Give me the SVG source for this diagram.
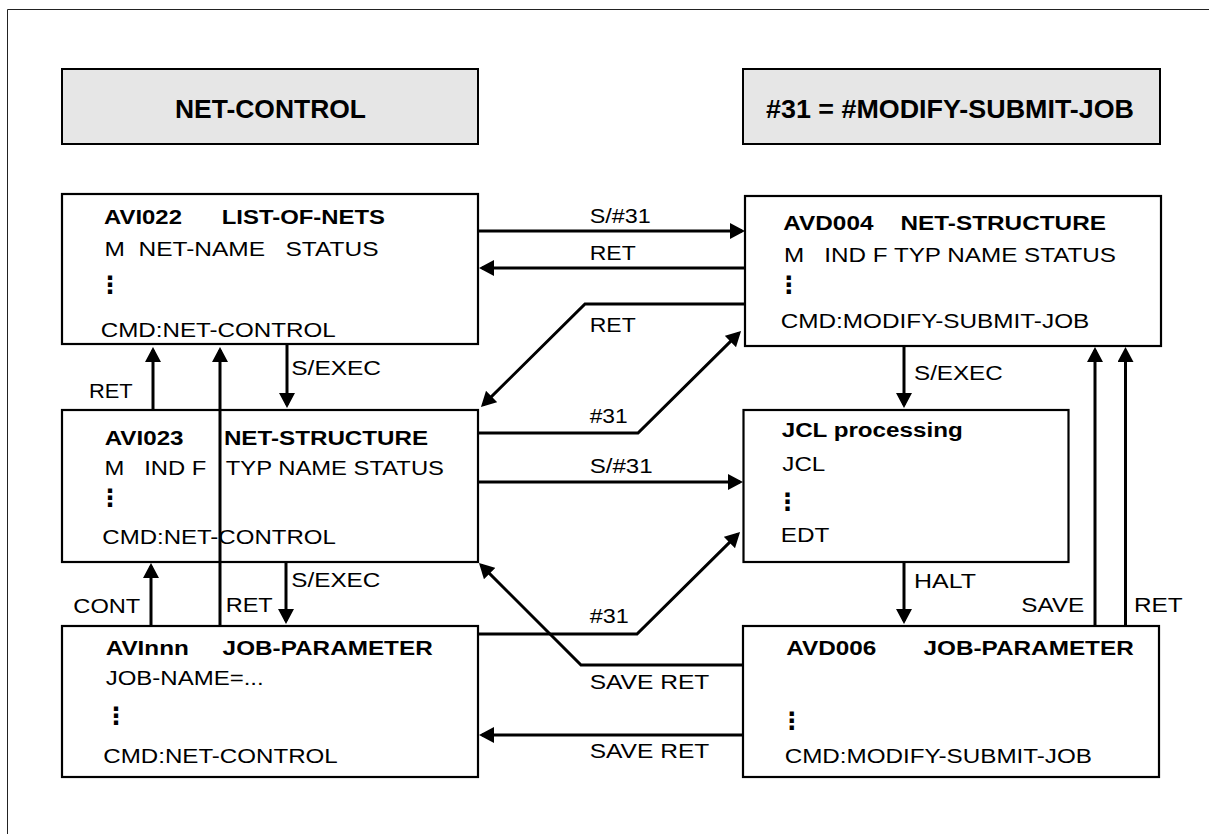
<svg xmlns="http://www.w3.org/2000/svg" width="1209" height="834" viewBox="0 0 1209 834">
<style>
.frame{fill:none;stroke:#222;stroke-width:1}
.hdr{fill:#e6e6e6;stroke:#000;stroke-width:2}
.box{fill:#fff;stroke:#000;stroke-width:2.2}
.t{font-family:"Liberation Sans",Arial,sans-serif;font-size:20.7px;fill:#000}
.b{font-weight:bold}
.h{font-family:"Liberation Sans",Arial,sans-serif;font-size:25px;font-weight:bold;fill:#000}
.dots{font-family:"DejaVu Sans",sans-serif;font-size:24px;font-weight:bold;fill:#000;text-anchor:middle}
.c{fill:none;stroke:#000;stroke-width:3;marker-end:url(#ah)}
</style>
<defs>
<marker id="ah" markerUnits="userSpaceOnUse" viewBox="0 0 15 16" markerWidth="15" markerHeight="16" refX="12" refY="8" orient="auto">
<path d="M0,0 L15,8 L0,16 Z" fill="#000"/>
</marker>
</defs>
<rect width="1209" height="834" fill="#fff"/>
<path class="frame" d="M7.5,834 V9.5 H1209"/>

<g id="hdr-net-control">
<rect class="hdr" x="62" y="69" width="416" height="75"/>
<text class="h" x="175" y="118.3" textLength="191" lengthAdjust="spacingAndGlyphs">NET-CONTROL</text>
</g>
<g id="hdr-modify">
<rect class="hdr" x="743" y="69" width="417" height="75"/>
<text class="h" x="766" y="117.7" textLength="368" lengthAdjust="spacingAndGlyphs">#31 = #MODIFY-SUBMIT-JOB</text>
</g>

<g id="avi022">
<rect class="box" x="62" y="194" width="416" height="150"/>
<text class="t b" xml:space="preserve" x="104" y="224.3" textLength="281" lengthAdjust="spacingAndGlyphs">AVI022      LIST-OF-NETS</text>
<text class="t" xml:space="preserve" x="104.5" y="256" textLength="274" lengthAdjust="spacingAndGlyphs">M  NET-NAME   STATUS</text>
<text class="dots" x="110" y="293">⋮</text>
<text class="t" x="100.7" y="336.7" textLength="235" lengthAdjust="spacingAndGlyphs">CMD:NET-CONTROL</text>
</g>

<g id="avi023">
<rect class="box" x="62" y="410" width="416" height="152"/>
<text class="t b" xml:space="preserve" x="104.7" y="445" textLength="323.5" lengthAdjust="spacingAndGlyphs">AVI023      NET-STRUCTURE</text>
<text class="t" xml:space="preserve" x="104.5" y="475" textLength="339.5" lengthAdjust="spacingAndGlyphs">M   IND F   TYP NAME STATUS</text>
<text class="dots" x="110" y="506">⋮</text>
<text class="t" x="102.3" y="544.3" textLength="233.5" lengthAdjust="spacingAndGlyphs">CMD:NET-CONTROL</text>
</g>

<g id="avinnn">
<rect class="box" x="62" y="626" width="416" height="151"/>
<text class="t b" xml:space="preserve" x="105.7" y="655" textLength="327" lengthAdjust="spacingAndGlyphs">AVInnn     JOB-PARAMETER</text>
<text class="t" x="105.7" y="685" textLength="158" lengthAdjust="spacingAndGlyphs">JOB-NAME=...</text>
<text class="dots" x="116" y="724">⋮</text>
<text class="t" x="103.3" y="763.3" textLength="234.5" lengthAdjust="spacingAndGlyphs">CMD:NET-CONTROL</text>
</g>

<g id="avd004">
<rect class="box" x="745" y="196" width="416" height="150"/>
<text class="t b" xml:space="preserve" x="783.3" y="230" textLength="322.7" lengthAdjust="spacingAndGlyphs">AVD004    NET-STRUCTURE</text>
<text class="t" xml:space="preserve" x="784" y="261.7" textLength="332" lengthAdjust="spacingAndGlyphs">M   IND F TYP NAME STATUS</text>
<text class="dots" x="788.7" y="293">⋮</text>
<text class="t" x="780.7" y="328.3" textLength="308.6" lengthAdjust="spacingAndGlyphs">CMD:MODIFY-SUBMIT-JOB</text>
</g>

<g id="jcl">
<rect class="box" x="743.5" y="410" width="325" height="152"/>
<text class="t b" x="781.7" y="436.7" textLength="181" lengthAdjust="spacingAndGlyphs">JCL processing</text>
<text class="t" x="782.3" y="471" textLength="43" lengthAdjust="spacingAndGlyphs">JCL</text>
<text class="dots" x="787.5" y="510">⋮</text>
<text class="t" x="780.7" y="541.7" textLength="48.6" lengthAdjust="spacingAndGlyphs">EDT</text>
</g>

<g id="avd006">
<rect class="box" x="743" y="626" width="416" height="151"/>
<text class="t b" xml:space="preserve" x="786.3" y="655" textLength="347.4" lengthAdjust="spacingAndGlyphs">AVD006       JOB-PARAMETER</text>
<text class="dots" x="791.7" y="729">⋮</text>
<text class="t" x="784.7" y="763.3" textLength="307.3" lengthAdjust="spacingAndGlyphs">CMD:MODIFY-SUBMIT-JOB</text>
</g>

<g id="connectors">
<path class="c" d="M478,231 H742"/>
<path class="c" d="M745,268 H482"/>
<path class="c" d="M745,304 H585 L483.1,404.9"/>
<path class="c" d="M478,433 H638 L738.9,333.1"/>
<path class="c" d="M478,482 H740"/>
<path class="c" d="M478,634 H637 L737.9,534.1"/>
<path class="c" d="M743,665 H581 L481.1,565.1"/>
<path class="c" d="M743,735 H482"/>
<path class="c" d="M287,345 V405"/>
<path class="c" d="M153,410 V350"/>
<path class="c" d="M220,626 V350"/>
<path class="c" d="M151,626 V566"/>
<path class="c" d="M286,563 V621"/>
<path class="c" d="M904,346 V405"/>
<path class="c" d="M904,563 V621"/>
<path class="c" d="M1095,626 V350"/>
<path class="c" d="M1125.5,626 V350"/>
<g id="connector-labels">
<text class="t" x="589.7" y="223.3" textLength="61" lengthAdjust="spacingAndGlyphs">S/#31</text>
<text class="t" x="589.7" y="260" textLength="46" lengthAdjust="spacingAndGlyphs">RET</text>
<text class="t" x="589.7" y="331.7" textLength="46" lengthAdjust="spacingAndGlyphs">RET</text>
<text class="t" x="589.7" y="423.3" textLength="38" lengthAdjust="spacingAndGlyphs">#31</text>
<text class="t" x="589.7" y="473.3" textLength="63" lengthAdjust="spacingAndGlyphs">S/#31</text>
<text class="t" x="589.7" y="623.3" textLength="39" lengthAdjust="spacingAndGlyphs">#31</text>
<text class="t" xml:space="preserve" x="589.7" y="689.3" textLength="119.6" lengthAdjust="spacingAndGlyphs">SAVE RET</text>
<text class="t" xml:space="preserve" x="589.7" y="758.3" textLength="119.6" lengthAdjust="spacingAndGlyphs">SAVE RET</text>
<text class="t" x="291.3" y="375" textLength="89.7" lengthAdjust="spacingAndGlyphs">S/EXEC</text>
<text class="t" x="89" y="398.3" textLength="43.7" lengthAdjust="spacingAndGlyphs">RET</text>
<text class="t" x="291.3" y="586.7" textLength="89" lengthAdjust="spacingAndGlyphs">S/EXEC</text>
<text class="t" x="73.3" y="612.7" textLength="67" lengthAdjust="spacingAndGlyphs">CONT</text>
<text class="t" x="225.7" y="611.7" textLength="47" lengthAdjust="spacingAndGlyphs">RET</text>
<text class="t" x="914" y="380" textLength="88.7" lengthAdjust="spacingAndGlyphs">S/EXEC</text>
<text class="t" x="914" y="588.3" textLength="62" lengthAdjust="spacingAndGlyphs">HALT</text>
<text class="t" x="1021.3" y="612.3" textLength="63" lengthAdjust="spacingAndGlyphs">SAVE</text>
<text class="t" x="1134" y="612.3" textLength="48.7" lengthAdjust="spacingAndGlyphs">RET</text>
</g>
</g>
</svg>
